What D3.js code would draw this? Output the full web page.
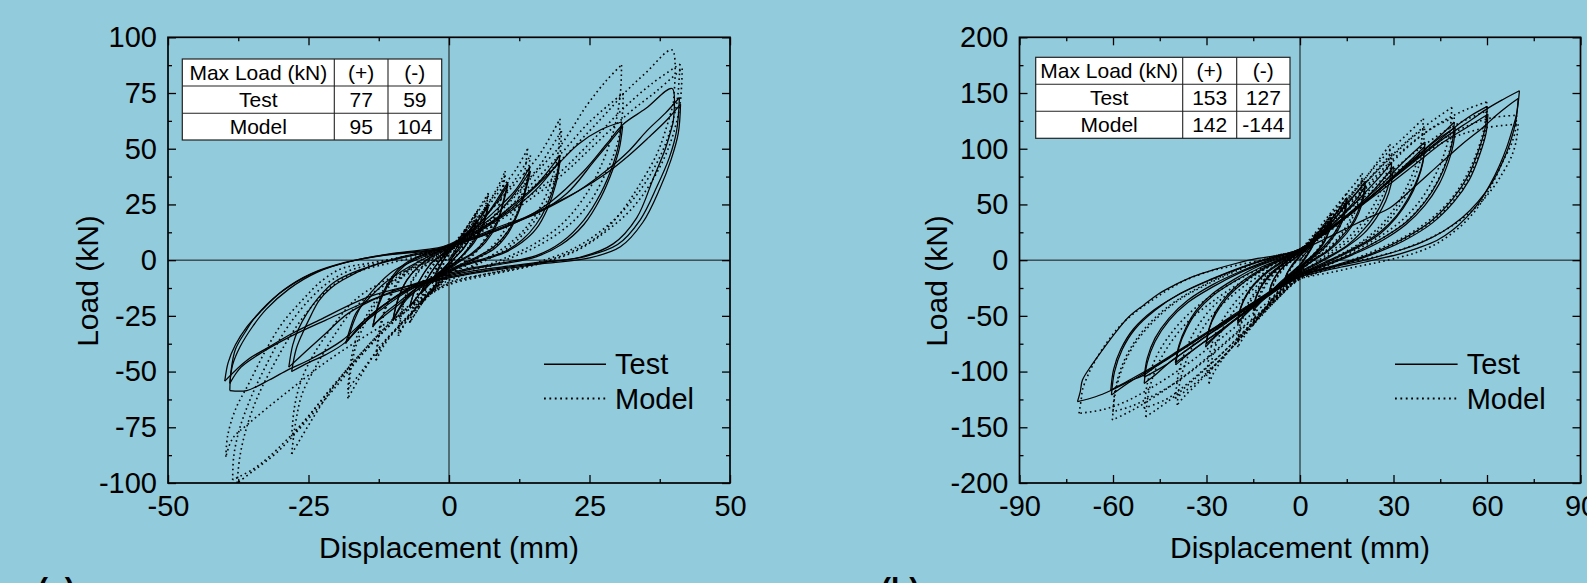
<!DOCTYPE html>
<html><head><meta charset="utf-8">
<script src="https://cdn.jsdelivr.net/npm/d3@7"></script>
<style>html,body{margin:0;padding:0;background:#92cbdc;overflow:hidden}</style>
</head><body><svg id="c" width="1587" height="583"></svg>
<script>
// ---------- data ----------
const xTicksA = [-50, -25, 0, 25, 50];
const yTicksA = [-100, -75, -50, -25, 0, 25, 50, 75, 100];
const xTicksB = [-90, -60, -30, 0, 30, 60, 90];
const yTicksB = [-200, -150, -100, -50, 0, 50, 100, 150, 200];
const xTitle = "Displacement (mm)";
const yTitle = "Load (kN)";
const seriesNames = ["Test", "Model"];
const panelLabels = ["(a)", "(b)"];
const tableHeader = ["Max Load (kN)", "(+)", "(-)"];
const tableRowsA = [["Test", "77", "59"], ["Model", "95", "104"]];
const tableRowsB = [["Test", "153", "127"], ["Model", "142", "-144"]];

const testA = [
[0,0],[1.5,6],[3,11],
[2.2,6],[1,2.5],[0,-1],[-1.5,-5],[-3,-10],
[-2.2,-5],[-1,0],[0,3.5],[1.5,7.5],[3,12],
[2.2,7],[1,3],[0,-1],[-1.5,-5.5],[-3,-10.5],
[-2,-5],[-1,0],[0,4],[2,9],[3.5,13],[5,18],
[4,11],[2.5,5],[1,1],[0,-2],[-2,-6],[-3.5,-10],[-5,-15],
[-4,-9],[-2.5,-3],[-1,1.5],[0,4],[2,9],[3.5,13],[5,18],
[4,11],[2.5,5],[1,1],[0,-2.5],[-2,-7],[-3.5,-11],[-5,-15],
[-4,-9],[-2.5,-3],[-1,2],[0,5],[2,9],[4,14],[5.5,19],[7,25],
[6,16],[4.5,9],[3,4],[1.5,0],[0,-3],[-2,-7],[-4,-11],[-5.5,-16],[-7,-21],
[-6,-13],[-4.5,-6],[-3,-1],[-1,3],[0,5],[2,9],[4,14],[5.5,19],[7,24],
[6,15],[4.5,8],[3,3.5],[1.5,0],[0,-3.5],[-2,-7.5],[-4,-12],[-5.5,-16],[-7,-21],
[-6,-13],[-4.5,-6],[-3,-1],[-1,3],[0,5.5],[3,11],[6,18],[8.5,27],[10.5,35],
[9.5,25],[8.5,17],[6.5,9],[4,3],[2,0],[0,-3.5],[-3,-8],[-5.5,-12],[-8,-18],[-10,-27],
[-9,-17],[-7.5,-9],[-5.5,-3],[-3,1.5],[0,5.5],[3,11],[6,18],[8.5,26],[10.5,34],
[9.5,24],[8.5,16],[6.5,8],[4,2.5],[2,-0.5],[0,-4],[-3,-8.5],[-5.5,-13],[-8,-19],[-10,-27],
[-9,-17],[-7.5,-9],[-5.5,-3],[-3,2],[0,6],[3,11],[6,17],[9,24],[12,32],[14.4,42],
[13.5,31],[12.3,22],[10.5,13],[8,6],[5,1.5],[2,-2],[0,-4.5],[-3,-9],[-6,-13],[-9,-19],[-11.5,-24],[-13.6,-30],
[-12.5,-20],[-11,-12],[-9,-5],[-6.5,0],[-3,3.5],[0,6.5],[3,11],[6,16],[9,22],[12,31],[14.5,40],
[13.5,30],[12.3,21],[10.5,12],[8,5],[5,1],[2,-2.5],[0,-5],[-3,-9.5],[-6,-14],[-9,-20],[-11.5,-25],[-13.5,-29],
[-12.5,-19],[-11,-11],[-9,-4],[-6.5,0.5],[-3,4],[0,7],[4,12],[8,18],[12,26],[16,35],[19.75,47],
[19,36],[17.5,25],[15.5,16],[13,9],[10,4],[6,0.5],[2,-2.5],[0,-5],[-4,-9],[-8,-14],[-12,-21],[-15,-28],[-17,-33],[-18.4,-37.4],
[-17.5,-30],[-16.6,-24],[-14.2,-17],[-11.3,-10],[-7.1,-3],[-3,2.5],[0,6.5],[4,11],[8,17],[12,24],[16,33],[19.8,45],
[19,34],[17.5,23],[15.5,14],[13,8],[10,3.5],[6,0],[2,-3],[0,-5.5],[-4,-9.5],[-8,-15],[-12,-22],[-15,-28],[-18,-36],
[-17,-28],[-15.5,-20],[-13,-12],[-10,-5],[-6,0],[-2,4],[0,6.5],[5,13],[10,21],[15,32],[19,42],[23,52],[27,58.5],[30.7,62],
[30.2,52],[29.2,43],[27,30],[24,18],[20,8],[15.5,2],[10,-1],[4,-3.5],[0,-6],[-6,-11],[-11,-19],[-15,-27],[-18.5,-37],[-22,-42.5],[-25,-46],[-28,-50],
[-27.2,-40],[-26.1,-33],[-24.6,-25],[-23.1,-18],[-21,-12.5],[-19,-9],[-14.2,-3],[-8.4,1.5],[-3,4.5],[0,6.5],[5,11],[10,16],[15.6,21],[21,30],[26,45],[30.9,60],
[30.3,50],[29.2,41],[27,28],[24,16],[20,7],[15.5,1.5],[10,-1.5],[4,-4],[0,-6.5],[-6,-10.5],[-12,-16],[-18,-24],[-22,-33],[-25.5,-41],[-28.5,-48],
[-27.8,-38],[-26.8,-31],[-25.3,-24],[-23.3,-17],[-20.5,-10],[-16,-4.5],[-10,0],[-4,3.5],[0,6],[6,11],[12,17],[18,26],[24,40],[28,52],[31,61],[35,68],[39.7,77],
[39.9,62],[38.5,50],[36.4,37],[33.4,19],[29.2,7.3],[23.3,1.3],[16.2,-0.9],[8,-3.5],[0,-7],[-6,-12],[-11,-19],[-15,-27],[-19,-36],[-24.9,-44.8],[-28.5,-49],[-32,-53.8],[-36,-58.5],[-39,-58.5],
[-38.8,-50],[-38,-40],[-36.2,-32],[-34.4,-25.4],[-30.2,-15],[-24.9,-6.7],[-19,-1.5],[-11.3,2.2],[-2.4,4.5],[0,6],[6,11],[12,17],[18,24],[23,31],[28,40.2],[32,49],[35.2,58],[38.5,66],[41,73],
[40.5,58],[39.2,46],[37,33],[34,18],[30,7],[24,1.5],[17,-1],[8,-4],[0,-7.5],[-5.3,-10.5],[-14.2,-16.4],[-23.1,-26.9],[-28,-33],[-32,-38.9],[-36,-45],[-39.9,-54.3],
[-39.3,-46],[-38,-38],[-36,-30],[-33.5,-23],[-29.5,-13.5],[-24.5,-6],[-18.5,-1],[-11,2.5],[-2,5],[0,6.5],[6,11.5],[12,17.5],[18,24.5],[23,31],[28,39],[32,47],[35.5,55],[38.8,63],[41.2,70],
[40.8,57],[39.5,45],[37.5,32],[34.5,17],[30.5,6],[25,1],[17,-1.5],[8,-4.5],[0,-8],[-5,-11],[-13,-17],[-22,-27],[-28,-34],[-33,-41],[-37,-48],[-39,-55.3],
[-38.5,-47],[-37.2,-39],[-35,-30],[-32.5,-22],[-28.5,-13],[-23.5,-5.5],[-17.5,-0.5],[-10,3],[-2,5.5],[0,7]
];

const modelA = [
[0,0],[1.5,7],[3,14],
[2.2,8],[1,3],[0,-1.5],[-1.5,-7],[-3,-14],
[-2.2,-8],[-1,-2],[0,2.5],[1.5,8],[3,14],
[2.2,8],[1,3],[0,-2],[-1.5,-7.5],[-3,-14],
[-2,-7],[-1,-1.5],[0,3],[2,10],[3.5,16],[5,22],
[4,14],[2.5,6],[1,1],[0,-3],[-2,-9],[-3.5,-14],[-5,-20],
[-4,-12],[-2.5,-5],[-1,1],[0,4],[2,10],[3.5,16],[5,22],
[4,14],[2.5,6],[1,0.5],[0,-3.5],[-2,-9.5],[-3.5,-14.5],[-5,-20],
[-4,-12],[-2.5,-4.5],[-1,1],[0,4.5],[2,11],[4,18],[5.5,24],[7,30],
[6,20],[4.5,11],[3,4],[1.5,-0.5],[0,-4],[-2,-10],[-4,-16],[-5.5,-22],[-7,-28],
[-6,-18],[-4.5,-9],[-3,-3],[-1,2],[0,4.5],[2,10],[4,17],[5.5,23],[7,29],
[6,19],[4.5,10],[3,3.5],[1.5,-1],[0,-4.5],[-2,-10.5],[-4,-16.5],[-5.5,-22],[-7,-28],
[-6,-18],[-4.5,-9],[-3,-2.5],[-1,2.5],[0,5],[3,13],[6,22],[8.5,32],[10,40],
[9.2,28],[8,18],[6.2,9],[4,2],[2,-2],[0,-5.5],[-3,-13],[-5.5,-20],[-7.5,-27],[-9,-34],
[-8.2,-21],[-6.8,-11],[-5,-4],[-2.5,1.5],[0,5],[3,13],[6,22],[8.5,31],[10,38],
[9.2,27],[8,17],[6.2,8],[4,1.5],[2,-2.5],[0,-6],[-3,-13.5],[-5.5,-20.5],[-7.5,-27],[-9,-33],
[-8.2,-20],[-6.8,-10],[-5,-3.5],[-2.5,2],[0,5.5],[3,13],[6,21],[9,31],[12,41],[14,50],
[13.3,37],[12.2,26],[10.5,16],[8,7],[5,1],[2,-3.5],[0,-6.5],[-3,-14],[-6,-22],[-9,-30],[-11.5,-38],[-13,-45],
[-12.3,-32],[-11,-20],[-9,-10],[-6.5,-3],[-3,2.5],[0,5.5],[3,12],[6,19],[9,27],[12,37],[14.5,47],
[13.7,35],[12.5,24],[10.7,14],[8.2,6],[5,0.5],[2,-4],[0,-7],[-3,-14.5],[-6,-22.5],[-9,-30],[-11.5,-37],[-13,-43],
[-12.3,-30],[-11,-19],[-9,-9],[-6.5,-2.5],[-3,3],[0,6],[4,14],[8,24],[12,35],[16,47],[19.75,63.4],
[19.5,50],[18.5,38],[16.5,25],[13.5,14],[10,6],[6,0],[2,-5],[0,-7],[-4,-16],[-8,-27],[-12,-38],[-15,-49],[-18,-62],
[-17.5,-50],[-16.5,-38],[-14.5,-26],[-12,-16],[-9,-8],[-5,-2],[0,4],[4,11],[8,20],[12,30],[16,42],[20,58],
[19.7,46],[18.7,35],[16.7,23],[13.7,13],[10.2,5],[6.2,-0.5],[2,-5.5],[0,-7.5],[-4,-16.5],[-8,-27],[-12,-38],[-15,-48],[-18,-58],
[-17.5,-46],[-16.5,-35],[-14.5,-24],[-12,-14.5],[-9,-7],[-5,-1],[0,4.5],[5,13],[10,24],[15,38],[20,52],[24.5,69.4],[28,80.6],[30.7,87.6],
[30.5,75],[29.5,60],[27,42],[24,28],[20,16],[15,7],[10,1],[5,-4],[0,-8],[-5,-16],[-10,-27],[-15,-40],[-20,-55],[-24,-70],[-28,-87],
[-27.3,-73],[-26.1,-59.8],[-23.7,-47.8],[-20.2,-32.9],[-16.6,-20.9],[-11.9,-12],[-7.1,-6],[-3,-1],[0,4],[5,12],[10,22],[15,35],[20,48],[25,62],[31,75],
[30.8,64],[29.8,51],[27.5,37],[24.5,24],[20.5,14],[15.5,6],[10,0],[5,-5],[0,-9],[-5,-17],[-10,-28],[-15,-41],[-20,-55],[-24,-67],[-28,-79],
[-27.5,-66],[-26.3,-54],[-24,-42],[-20.5,-29],[-16.8,-18],[-12,-10],[-7,-4],[-3,0],[0,4],[5,12],[10,22],[15,33],[20,45],[25,58],[28,66],[31.6,76],[35,84],[39.7,94.3],
[39.9,70],[38.5,58],[37,47.7],[34,34.2],[30.4,20.8],[26.3,10.3],[20.9,2.8],[13.2,-3.1],[5,-7],[0,-10],[-7,-22],[-14.2,-33],[-21.4,-44.8],[-29.1,-59.8],[-35.6,-73.2],[-38.5,-80],[-39.7,-88.2],
[-39.4,-79],[-38,-67],[-35.6,-55.3],[-32.6,-40.4],[-29.7,-28.4],[-26.1,-17.9],[-22.5,-9],[-19,-3.7],[-14.2,-1.4],[-7,2],[0,5],[5,12],[10,21],[15,30],[20,40],[26,55],[31,68],[36,79],[41.1,88],
[40.5,70],[38.5,52],[35.5,37],[32,25],[27.5,14],[22,5],[15,-1.5],[7,-6],[0,-10.5],[-5,-17],[-10,-27],[-15,-40],[-20.2,-55],[-26.1,-73.2],[-32,-88.2],[-35,-94],[-38.5,-98.6],
[-38.3,-88],[-37.3,-76],[-35.3,-62],[-32.5,-47],[-29.5,-33],[-26,-21],[-22,-11],[-18,-5],[-13,-1.5],[-6,2.5],[0,5.5],[6,13],[12,23],[20,38],[26,52],[32,66],[37,76],[41.5,86],
[41,68],[39,50],[36,35],[32.5,23],[28,13],[22.5,4],[15.5,-2],[7.5,-6.5],[0,-11],[-5,-18],[-10,-28],[-15,-41],[-20.2,-57],[-26,-74],[-30.5,-86],[-34.5,-94],[-37.7,-100],
[-37.2,-88],[-36,-75],[-34,-61],[-31,-46],[-28,-33],[-24.5,-21],[-20.5,-11],[-16,-5],[-10,-1],[-3,3],[0,5]
];

const testB = [
[0,0],[2,7],[4,14],[5,20],
[4,13],[2.5,6],[1,0],[0,-4],[-2,-9],[-3.5,-13],[-5,-18],
[-4,-11],[-2.5,-5],[-1,0],[0,4],[2,9],[3.5,14],[5,19],
[4,12],[2.5,5],[1,-1],[0,-5],[-2,-10],[-3.5,-14],[-5,-18],
[-4,-11],[-2.5,-4],[0,4],[3,12],[6,21],[8.5,29],[10,36],
[9.3,27],[8,18],[6,10],[3.5,3],[1,-3],[0,-6],[-3,-12],[-6,-19],[-8.5,-26],[-10,-32],
[-9.2,-22],[-7.5,-13],[-5,-5],[-2,1],[0,5],[3,12],[6,20],[8.5,28],[10,34],
[9.3,26],[8,17],[6,9],[3.5,2],[1,-4],[0,-7],[-3,-13],[-6,-20],[-8.5,-27],[-10,-32],
[-9.2,-22],[-7.5,-13],[-5,-5],[-2,1],[0,6],[4,16],[8,29],[11.5,42],[15,56],
[14.3,44],[12.8,33],[10.5,22],[7.5,12],[4,3],[1,-4],[0,-8],[-4,-16],[-8,-25],[-12,-36],[-15,-45],
[-14,-33],[-12,-22],[-9,-12],[-5,-3],[-2,3],[0,7],[4,17],[8,28],[12,40],[15,52],
[14.3,41],[12.8,30],[10.5,20],[7.5,10],[4,2],[1,-5],[0,-8],[-4,-17],[-8,-26],[-12,-36],[-15,-43],
[-14,-32],[-12,-21],[-9,-11],[-5,-2],[-2,4],[0,8],[5,20],[10,34],[15,50],[18,60],[21,71],
[20.3,58],[18.8,45],[16.5,32],[13,20],[9,9],[4,0],[0,-8],[-5,-18],[-10,-29],[-15,-42],[-18,-50],[-20,-57],
[-19,-43],[-17,-31],[-14,-20],[-10,-10],[-5,-1],[0,7],[5,18],[10,31],[15,45],[19,58],[21,67],
[20.3,55],[18.8,42],[16.5,30],[13,18],[9,8],[4,-1],[0,-9],[-5,-19],[-10,-30],[-15,-42],[-18,-50],[-20,-55],
[-19,-42],[-17,-30],[-14,-19],[-10,-9],[-5,0],[0,8],[6,21],[12,36],[18,52],[22,64],[26,76],[29.4,88],
[28.8,72],[27,56],[24,40],[20,26],[15,13],[9,3],[3,-6],[0,-10],[-6,-21],[-12,-34],[-18,-47],[-24,-61],[-28,-71],[-30.3,-78],
[-29.2,-62],[-27,-48],[-23.5,-34],[-19,-22],[-13,-10],[-6,0],[0,8],[6,20],[12,33],[18,47],[24,64],[28,77],[30,84],
[29.3,69],[27.5,53],[24.5,38],[20.5,24],[15,12],[9,2],[3,-7],[0,-11],[-6,-22],[-12,-35],[-18,-47],[-24,-60],[-28,-70],[-30,-75],
[-29,-60],[-27,-46],[-23.5,-32],[-19,-20],[-13,-9],[-6,1],[0,9],[7,23],[14,38],[21,55],[27,70],[31,82],[35,93],[40.1,106],
[39.5,90],[38,75],[35,57],[31,40],[26,26],[19,13],[11,2],[4,-7],[0,-12],[-6,-23],[-13,-37],[-20,-52],[-27,-66],[-33,-78],[-37,-87],[-39.9,-94],
[-38.8,-78],[-36.5,-62],[-33,-46],[-28,-32],[-21,-19],[-13,-7],[-5,2],[0,8],[8,24],[16,41],[24,60],[31,78],[36,91],[40,102],
[39.4,87],[37.8,72],[34.8,54],[30.8,38],[25.8,24],[19,12],[11,1],[4,-8],[0,-13],[-6,-24],[-13,-38],[-20,-52],[-27,-66],[-33,-78],[-37,-86],[-40,-92],
[-38.8,-76],[-36.5,-60],[-33,-44],[-28,-30],[-21,-17],[-13,-5],[-5,3],[0,9],[9,26],[18,46],[27,67],[35,87],[41,102],[45.5,113],[49.5,124],
[49,108],[47.5,92],[44.5,72],[40,52],[34,34],[26,19],[17,6],[8,-4],[0,-12],[-8,-25],[-16,-40],[-24,-56],[-32,-72],[-38,-84],[-42,-92],[-46,-102],[-50,-110.6],
[-49,-92],[-46.5,-73],[-42,-54],[-36,-38],[-28,-24],[-19,-11],[-10,-1],[0,9],[10,28],[20,50],[30,74],[38,94],[44,108],[49.8,119],
[49.2,104],[47.6,88],[44.6,68],[40,49],[34,32],[26,17],[17,5],[8,-5],[0,-13],[-8,-26],[-16,-41],[-24,-57],[-32,-72],[-38,-84],[-43,-94],[-50,-105],
[-49,-88],[-46.5,-70],[-42,-52],[-36,-36],[-28,-22],[-19,-10],[-10,0],[0,10],[12,33],[24,60],[36,88],[44,106],[50,120],[55,130],[60.1,138],
[59.5,120],[57.5,100],[54,76],[49,55],[42,35],[33,19],[23,6],[12,-4],[4,-10],[0,-14],[-10,-30],[-20,-48],[-30,-65],[-40,-83],[-48,-97],[-55,-108],[-60.7,-116.6],
[-59.8,-98],[-57.5,-80],[-53.5,-62],[-47,-45],[-39,-31],[-29,-18],[-18,-6],[-8,3],[0,10],[12,33],[24,58],[36,84],[46,106],[54,120],[60.3,131],
[59.7,114],[57.7,95],[54.3,72],[49.3,52],[42.3,33],[33,17],[23,5],[12,-5],[4,-11],[0,-15],[-10,-31],[-20,-49],[-30,-66],[-40,-84],[-48,-98],[-55,-110],[-60.5,-121],
[-59.5,-100],[-57,-80],[-53,-62],[-46.5,-45],[-38.5,-30],[-28.5,-17],[-17.5,-5],[-8,3],[0,10],[12,34],[24,60],[36,87],[46,109],[55,126],[60.1,136],[65,144],[70.4,152],
[69.5,131],[68,116],[66.3,101],[64,85],[61,68],[57.5,52],[53.5,38.6],[49,27],[43.9,17.6],[38,11],[32.1,5.7],[25,1],[18.2,-3.3],[10,-8],[4,-12],[0,-15],[-4.6,-21],[-11,-31],[-17.4,-42],[-24,-54],[-30,-66],[-36,-77],[-42,-88],[-47,-97],[-50,-103],[-55,-109],[-60.7,-117],[-65.6,-122.6],[-71.4,-127],
[-70.5,-118],[-69.8,-107.6],[-66.8,-94],[-63.4,-80.7],[-59.2,-65],[-54.9,-50.8],[-50,-40],[-45.2,-29.9],[-40,-22],[-34.6,-15],[-27.6,-8.5],[-20.6,-3],[-13.6,1.5],[-6.7,4.5],[0,9],[8,19],[16,30],[22,38],[28.9,47],[36,64],[44.9,86.4],[52,104],[58.8,119.3],[63,130],[67,139],[70,145],
[69.2,124],[67.5,106],[65,88],[61.5,69],[57,52],[52,38],[46,26],[39,16],[31,8],[22,1],[14,-4],[6,-9],[0,-13]
];

const modelB = [
[0,0],[2,9],[4,17],[5,24],
[4,15],[2.5,7],[1,0],[0,-4],[-2,-10],[-3.5,-16],[-5,-22],
[-4,-13],[-2.5,-6],[-1,0],[0,4],[2,10],[3.5,17],[5,23],
[4,14],[2.5,6],[1,-1],[0,-5],[-2,-11],[-3.5,-16],[-5,-21],
[-4,-12],[-2.5,-5],[0,4],[3,14],[6,25],[8.5,35],[10,42],
[9.4,32],[8,21],[6,11],[3.5,3],[1,-4],[0,-7],[-3,-15],[-6,-24],[-8.5,-33],[-10,-40],
[-9.3,-29],[-7.6,-17],[-5,-7],[-2,1],[0,6],[3,14],[6,24],[8.5,34],[10,41],
[9.4,31],[8,20],[6,10],[3.5,2],[1,-5],[0,-8],[-3,-16],[-6,-25],[-8.5,-33],[-10,-39],
[-9.3,-28],[-7.6,-16],[-5,-6],[-2,2],[0,7],[4,19],[8,33],[11.5,46],[15,60],
[14.4,47],[13,35],[10.8,23],[7.8,12],[4,2],[1,-6],[0,-9],[-4,-20],[-8,-32],[-12,-46],[-15,-58],
[-14.2,-43],[-12.3,-29],[-9.3,-16],[-5.5,-5],[-2,3],[0,8],[4,20],[8,33],[12,46],[15,56],
[14.4,44],[13,32],[10.8,21],[7.8,10],[4,1],[1,-7],[0,-10],[-4,-21],[-8,-33],[-12,-45],[-15,-54],
[-14.2,-40],[-12.3,-27],[-9.3,-14],[-5.5,-4],[-2,4],[0,9],[5,25],[10,43],[15,60],[18,70],[20,78],
[19.4,63],[18,49],[15.8,35],[12.5,21],[8.5,9],[4,0],[0,-9],[-5,-24],[-10,-40],[-15,-58],[-18,-69],[-20,-78],
[-19.2,-61],[-17.3,-45],[-14.3,-30],[-10.3,-16],[-5.5,-4],[0,7],[5,22],[10,38],[15,55],[18,65],[20,72],
[19.4,59],[18,46],[15.8,32],[12.5,19],[8.5,8],[4,-1],[0,-10],[-5,-25],[-10,-41],[-15,-56],[-18,-65],[-20,-72],
[-19.2,-57],[-17.3,-42],[-14.3,-28],[-10.3,-14],[-5.5,-3],[0,8],[7,28],[14,50],[20,70],[24.5,87],[28.9,104],
[28.3,86],[26.8,69],[24,51],[20,34],[15,19],[9,6],[3,-6],[0,-11],[-6,-28],[-12,-46],[-18,-65],[-24,-86],[-27.5,-100],[-29.2,-110.6],
[-28.3,-90],[-26.2,-70],[-22.8,-52],[-18.2,-35],[-12.2,-19],[-6,-6],[0,8],[6,25],[12,43],[18,60],[24,79],[27.5,90],[29.5,96],
[28.9,80],[27.3,64],[24.5,47],[20.5,31],[15.5,17],[9.5,5],[3.5,-7],[0,-12],[-6,-29],[-12,-47],[-18,-66],[-24,-85],[-28,-97],[-30,-104],
[-29,-84],[-27,-65],[-23.5,-48],[-19,-32],[-13,-18],[-6,-5],[0,8],[7,28],[14,50],[21,74],[28,96],[34,112],[39.6,127],
[39,107],[37.5,88],[34.5,67],[30.5,47],[25.5,30],[19,15],[11,2],[4,-9],[0,-14],[-7,-33],[-14,-54],[-21,-76],[-28,-96],[-33,-111],[-37,-122],[-39.4,-130],
[-38.5,-109],[-36.2,-88],[-32.7,-68],[-27.7,-48],[-21,-30],[-13,-14],[-5,0],[0,8],[8,30],[16,54],[24,78],[31,97],[36,110],[40,118],
[39.4,100],[37.8,82],[34.8,62],[30.8,44],[25.8,28],[19,14],[11,1],[4,-10],[0,-15],[-7,-34],[-14,-55],[-21,-76],[-28,-96],[-33,-109],[-37,-118],[-40,-124],
[-39,-102],[-36.7,-81],[-33.2,-61],[-28,-42],[-21,-26],[-13,-11],[-5,2],[0,9],[9,34],[18,60],[27,87],[34,106],[40,120],[44.5,129],[48.7,137],
[48.2,118],[46.7,99],[43.7,78],[39.2,56],[33.2,37],[25.5,21],[16.5,7],[8,-5],[0,-15],[-8,-36],[-16,-58],[-24,-81],[-32,-102],[-38,-117],[-43,-128],[-46.5,-135],[-49.5,-140.5],
[-48.5,-118],[-46,-96],[-41.5,-74],[-35.5,-54],[-28,-37],[-19,-20],[-10,-6],[0,8],[10,35],[20,63],[30,91],[38,110],[44,121],[49.5,128],
[48.9,110],[47.3,92],[44.3,72],[39.8,52],[33.8,34],[26,19],[17,6],[8,-6],[0,-16],[-8,-37],[-16,-59],[-24,-81],[-32,-101],[-38,-115],[-43,-125],[-50,-133],
[-49,-111],[-46.5,-89],[-42,-68],[-36,-49],[-28.5,-32],[-19.5,-17],[-10,-4],[0,9],[12,40],[24,72],[34,100],[42,118],[48,128],[54,136],[59.9,142],
[59.3,122],[57.3,101],[53.8,78],[48.8,56],[42,37],[33.5,21],[23.5,8],[12.5,-4],[4,-12],[0,-16],[-10,-40],[-20,-64],[-30,-88],[-40,-110],[-48,-125],[-54,-135],[-60.2,-143.5],
[-59.3,-120],[-57,-97],[-53,-75],[-47,-55],[-39.5,-37],[-30,-22],[-19,-8],[-9,3],[0,10],[12,38],[24,67],[36,95],[46,115],[54,127],[60,134],
[59.4,115],[57.4,95],[53.9,73],[48.9,52],[42,34],[33.5,19],[23.5,6],[12.5,-5],[4,-13],[0,-17],[-10,-41],[-20,-65],[-30,-89],[-40,-110],[-48,-123],[-54,-131],[-60,-136],
[-59.3,-116],[-57,-94],[-53,-73],[-47,-53],[-39.5,-36],[-30,-21],[-19,-7],[-9,3],[0,10],[12,37],[24,64],[36,90],[46,109],[55,122],[62,128],[69.5,130],
[69,115],[67.5,102],[65.2,89.4],[62.7,74],[59.9,59.5],[56.4,45],[52.4,32.6],[47.8,22],[42.8,13.2],[37.5,7],[32.1,2.7],[25,-2],[18,-6],[10,-11],[4,-14],[0,-17],[-8,-33],[-18,-54],[-28,-76],[-38,-97],[-48,-115],[-56,-127],[-63,-134],[-70.9,-137.5],
[-70.2,-125],[-69.8,-116.6],[-68,-103],[-65.6,-89.7],[-62,-74],[-58,-59.8],[-53,-47],[-47.4,-35.9],[-42,-26],[-36.7,-17.9],[-29,-10],[-21.7,-5.4],[-14,-1],[-7,3],[0,8],[10,27],[20,50],[30,75],[40,96],[50,111],[60,119],[70,122],
[69.3,106],[67.7,92],[65.2,79],[61.7,64],[57,49],[51,35],[44,23],[36,13],[27,5],[18,-1],[9,-7],[0,-13]
];

// ---------- drawing ----------
const FONT = '"Liberation Sans", Arial, Helvetica, sans-serif';
const BG = "#92cbdc";
const svg = d3.select("#c");
svg.append("rect").attr("width", 1587).attr("height", 583).attr("fill", BG);
const defs = svg.append("defs");

function splitBranches(pts) {
  const out = [];
  let cur = [pts[0]], dir = 0;
  for (let i = 1; i < pts.length; i++) {
    const d = Math.sign(pts[i][0] - pts[i - 1][0]);
    if (dir !== 0 && d !== 0 && d !== dir) { out.push(cur); cur = [pts[i - 1]]; }
    if (d !== 0) dir = d;
    cur.push(pts[i]);
  }
  out.push(cur);
  return out;
}
const minorOf = t => d3.pairs(t).map(([a, b]) => (a + b) / 2);
const fmt = d => String(d); // hyphen-minus, as in the reference

function panel(o) {
  const x = d3.scaleLinear().domain(o.xDom).range([o.L, o.R]);
  const y = d3.scaleLinear().domain(o.yDom).range([o.B, o.T]);
  const g = svg.append("g");
  const cid = "clip" + o.id;
  defs.append("clipPath").attr("id", cid).append("rect")
    .attr("x", o.L).attr("y", o.T).attr("width", o.R - o.L).attr("height", o.B - o.T);

  // zero lines
  g.append("line").attr("x1", o.L).attr("x2", o.R).attr("y1", y(0)).attr("y2", y(0))
    .attr("stroke", "#111").attr("stroke-width", 1);
  g.append("line").attr("x1", x(0)).attr("x2", x(0)).attr("y1", o.T).attr("y2", o.B)
    .attr("stroke", "#111").attr("stroke-width", 1);

  // data
  const line = d3.line().x(d => x(d[0])).y(d => y(d[1])).curve(d3.curveCatmullRom.alpha(0.5));
  const dg = g.append("g").attr("clip-path", `url(#${cid})`);
  splitBranches(o.model).forEach(b => dg.append("path").attr("d", line(b))
    .attr("fill", "none").attr("stroke", "#000").attr("stroke-width", 1.6)
    .attr("stroke-dasharray", "1.6,3.2"));
  splitBranches(o.test).forEach(b => dg.append("path").attr("d", line(b))
    .attr("fill", "none").attr("stroke", "#000").attr("stroke-width", 1.25)
    .attr("stroke-linejoin", "miter"));

  // axes
  function styleAx(a, fs) {
    a.select(".domain").remove();
    a.attr("font-family", FONT).attr("font-size", fs);
    a.selectAll("line").attr("stroke", "#000").attr("stroke-width", 1.3);
    a.selectAll("text").attr("fill", "#000");
  }
  styleAx(g.append("g").attr("transform", `translate(0,${o.B})`)
    .call(d3.axisBottom(x).tickValues(o.xTicks).tickSize(-8).tickPadding(12).tickFormat(fmt)), 29);
  styleAx(g.append("g").attr("transform", `translate(0,${o.B})`)
    .call(d3.axisBottom(x).tickValues(minorOf(o.xTicks)).tickSize(-4).tickFormat("")), 29);
  styleAx(g.append("g").attr("transform", `translate(${o.L},0)`)
    .call(d3.axisLeft(y).tickValues(o.yTicks).tickSize(-8).tickPadding(11).tickFormat(fmt)), 29);
  styleAx(g.append("g").attr("transform", `translate(${o.L},0)`)
    .call(d3.axisLeft(y).tickValues(minorOf(o.yTicks)).tickSize(-4).tickFormat("")), 29);
  styleAx(g.append("g").attr("transform", `translate(0,${o.T})`)
    .call(d3.axisTop(x).tickValues(o.xTicks).tickSize(-8).tickFormat("")), 29);
  styleAx(g.append("g").attr("transform", `translate(0,${o.T})`)
    .call(d3.axisTop(x).tickValues(minorOf(o.xTicks)).tickSize(-4).tickFormat("")), 29);
  styleAx(g.append("g").attr("transform", `translate(${o.R},0)`)
    .call(d3.axisRight(y).tickValues(o.yTicks).tickSize(-8).tickFormat("")), 29);
  styleAx(g.append("g").attr("transform", `translate(${o.R},0)`)
    .call(d3.axisRight(y).tickValues(minorOf(o.yTicks)).tickSize(-4).tickFormat("")), 29);

  // frame
  g.append("rect").attr("x", o.L).attr("y", o.T).attr("width", o.R - o.L).attr("height", o.B - o.T)
    .attr("fill", "none").attr("stroke", "#000").attr("stroke-width", 1.7);

  // titles
  g.append("text").attr("x", (o.L + o.R) / 2).attr("y", 558).attr("text-anchor", "middle")
    .attr("font-family", FONT).attr("font-size", 30).text(xTitle);
  g.append("text").attr("transform", `translate(${o.ytx},281) rotate(-90)`).attr("text-anchor", "middle")
    .attr("font-family", FONT).attr("font-size", 30).text(yTitle);

  // table
  const cols = o.tCols, rows = o.tRows;
  const tg = g.append("g");
  tg.append("rect").attr("x", cols[0]).attr("y", rows[0]).attr("width", cols[3] - cols[0])
    .attr("height", rows[3] - rows[0]).attr("fill", "#fff").attr("stroke", "#222").attr("stroke-width", 1.2);
  [1, 2].forEach(i => tg.append("line").attr("x1", cols[i]).attr("x2", cols[i])
    .attr("y1", rows[0]).attr("y2", rows[3]).attr("stroke", "#222").attr("stroke-width", 1.1));
  [1, 2].forEach(i => tg.append("line").attr("x1", cols[0]).attr("x2", cols[3])
    .attr("y1", rows[i]).attr("y2", rows[i]).attr("stroke", "#222").attr("stroke-width", 1.1));
  const allRows = [tableHeader].concat(o.tableRows);
  allRows.forEach((r, ri) => r.forEach((t, ci) => {
    tg.append("text").attr("x", (cols[ci] + cols[ci + 1]) / 2).attr("y", (rows[ri] + rows[ri + 1]) / 2 + 7.5)
      .attr("text-anchor", "middle").attr("font-family", FONT).attr("font-size", 21).attr("fill", "#000").text(t);
  }));

  // legend
  const lg = g.append("g");
  [o.ly1, o.ly2].forEach((ly, i) => {
    lg.append("line").attr("x1", o.lx1).attr("x2", o.lx2).attr("y1", ly).attr("y2", ly)
      .attr("stroke", "#000").attr("stroke-width", i === 0 ? 1.6 : 1.8)
      .attr("stroke-dasharray", i === 0 ? null : "1.8,3.6");
    lg.append("text").attr("x", o.ltx).attr("y", ly + 10).attr("font-family", FONT)
      .attr("font-size", 29).attr("fill", "#000").text(seriesNames[i]);
  });

  // panel label
  g.append("text").attr("x", o.px).attr("y", 599).attr("font-family", FONT).attr("font-weight", "bold")
    .attr("font-size", 30).attr("fill", "#000").text(o.plabel);
}

panel({ id: "A", xDom: [-50, 50], yDom: [-100, 100], L: 168, R: 730, T: 37.3, B: 483,
  xTicks: xTicksA, yTicks: yTicksA, test: testA, model: modelA, ytx: 98,
  tCols: [182.3, 334.3, 388, 441.7], tRows: [59, 86, 113.3, 140], tableRows: tableRowsA,
  lx1: 544, lx2: 606, ltx: 615, ly1: 364.3, ly2: 398.5, px: 38, plabel: panelLabels[0] });
panel({ id: "B", xDom: [-90, 90], yDom: [-200, 200], L: 1019.5, R: 1580.5, T: 37.3, B: 483,
  xTicks: xTicksB, yTicks: yTicksB, test: testB, model: modelB, ytx: 947,
  tCols: [1035.7, 1182.7, 1236.7, 1290], tRows: [57.3, 84.3, 111.3, 138.3], tableRows: tableRowsB,
  lx1: 1395, lx2: 1457.6, ltx: 1466.7, ly1: 364.3, ly2: 398.5, px: 881, plabel: panelLabels[1] });
</script>
</body></html>
